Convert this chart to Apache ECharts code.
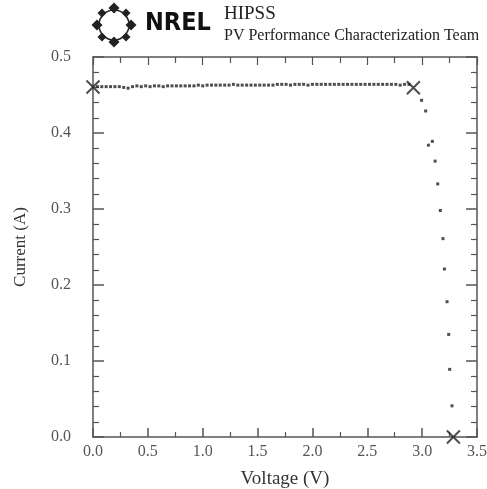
<!DOCTYPE html>
<html><head><meta charset="utf-8">
<script src="https://cdn.jsdelivr.net/npm/echarts@6/dist/echarts.min.js"></script>
<style>html,body{margin:0;padding:0;background:#fff}#c{width:487px;height:489px}</style>
</head><body><div id="c"></div>
<script>
// Flat region of the I-V curve (measured points)
const flatV = [0.04,0.08,0.12,0.16,0.20,0.24,0.28,0.32,0.36,0.40,0.44,0.48,0.52,0.56,0.60,0.64,0.68,0.72,0.76,0.80,0.84,0.88,0.92,0.96,1.00,1.04,1.08,1.12,1.16,1.20,1.24,1.28,1.32,1.36,1.40,1.44,1.48,1.52,1.56,1.60,1.64,1.68,1.72,1.76,1.80,1.84,1.88,1.92,1.96,2.00,2.04,2.08,2.12,2.16,2.20,2.24,2.28,2.32,2.36,2.40,2.44,2.48,2.52,2.56,2.60,2.64,2.68,2.72,2.76,2.80,2.84,2.88];
const flatI = [0.461,0.461,0.461,0.461,0.461,0.461,0.460,0.459,0.461,0.462,0.461,0.462,0.461,0.462,0.462,0.461,0.462,0.462,0.462,0.462,0.462,0.462,0.462,0.463,0.462,0.463,0.463,0.463,0.463,0.463,0.463,0.464,0.463,0.463,0.463,0.463,0.463,0.463,0.463,0.463,0.463,0.464,0.464,0.464,0.463,0.464,0.464,0.464,0.463,0.464,0.464,0.464,0.464,0.464,0.464,0.464,0.464,0.464,0.464,0.464,0.464,0.464,0.464,0.464,0.464,0.464,0.464,0.464,0.464,0.463,0.464,0.464];
// Knee and tail
const tailV = [2.995,3.032,3.057,3.093,3.118,3.142,3.166,3.190,3.203,3.227,3.242,3.251,3.272];
const tailI = [0.443,0.429,0.384,0.389,0.363,0.333,0.298,0.261,0.221,0.178,0.135,0.089,0.041];
// Key points: Isc, Pmax, Voc
const keyV = [0.0, 2.92, 3.285];
const keyI = [0.4605, 0.4596, 0.0];
const xTicks = ['0.0','0.5','1.0','1.5','2.0','2.5','3.0','3.5'];
const yTicks = ['0.0','0.1','0.2','0.3','0.4','0.5'];

const dots = flatV.map((v,i)=>[v,flatI[i]]).concat(tailV.map((v,i)=>[v,tailI[i]]));
const keys = keyV.map((v,i)=>[v,keyI[i]]);

const axisCol = '#555';
const font = 'Liberation Serif';
const chart = echarts.init(document.getElementById('c'), null, {renderer:'canvas'});

function diamond(cx, cy, s){ return {type:'polygon', shape:{points:[[cx,cy-s],[cx+s,cy],[cx,cy+s],[cx-s,cy]]}, style:{fill:'#222'}}; }
const lc = [114, 25], R = 17;
const logo = [];
for (let k=0;k<8;k++){
  const a = k*Math.PI/4;
  logo.push(diamond(lc[0]+R*Math.cos(a), lc[1]+R*Math.sin(a), k%2===0?5.5:4.5));
}

const xCommon = {type:'value', min:0, max:3.5, interval:0.5,
  axisLine:{show:true, onZero:false, lineStyle:{color:axisCol, width:1.5}},
  splitLine:{show:false}};
const yCommon = {type:'value', min:0, max:0.5, interval:0.1,
  axisLine:{show:true, onZero:false, lineStyle:{color:axisCol, width:1.5}},
  splitLine:{show:false}};

chart.setOption({
  animation:false,
  backgroundColor:'#fff',
  grid:{left:93, right:10, top:57, bottom:52, containLabel:false, outerBoundsMode:'none'},
  xAxis:[
    Object.assign({}, xCommon, {position:'bottom',
      name:'Voltage (V)', nameLocation:'middle', nameGap:33, nameMoveOverlap:false,
      nameTextStyle:{fontFamily:font, fontSize:19, color:'#333'},
      axisTick:{show:true, inside:true, length:9, lineStyle:{color:axisCol, width:1.5}},
      minorTick:{show:true, splitNumber:2, length:5, lineStyle:{color:axisCol, width:1.2}},
      axisLabel:{fontFamily:font, fontSize:16, color:axisCol, margin:7,
        formatter:(v)=>xTicks[Math.round(v/0.5)]}}),
    Object.assign({}, xCommon, {position:'top',
      axisTick:{show:true, inside:true, length:8, lineStyle:{color:axisCol, width:1.2}},
      minorTick:{show:true, splitNumber:2, length:6, lineStyle:{color:axisCol, width:1.2}},
      axisLabel:{show:false}})
  ],
  yAxis:[
    Object.assign({}, yCommon, {position:'left',
      name:'Current (A)', nameLocation:'middle', nameGap:64, nameRotate:90,
      nameTextStyle:{fontFamily:font, fontSize:17, color:'#333'},
      axisTick:{show:true, inside:true, length:11, lineStyle:{color:axisCol, width:1.5}},
      minorTick:{show:true, splitNumber:5, length:6, lineStyle:{color:axisCol, width:1.2}},
      axisLabel:{fontFamily:font, fontSize:16, color:axisCol, margin:22,
        formatter:(v)=>yTicks[Math.round(v/0.1)]}}),
    Object.assign({}, yCommon, {position:'right',
      axisTick:{show:true, inside:true, length:11, lineStyle:{color:axisCol, width:1.5}},
      minorTick:{show:true, splitNumber:5, length:6, lineStyle:{color:axisCol, width:1.2}},
      axisLabel:{show:false}})
  ],
  series:[
    {type:'scatter', xAxisIndex:0, yAxisIndex:0, data:dots, symbol:'rect', symbolSize:3,
     itemStyle:{color:'#222'}, silent:true},
    {type:'scatter', xAxisIndex:0, yAxisIndex:0, data:keys,
     symbol:'path://M0,0 L10,10 M10,0 L0,10', symbolSize:13,
     itemStyle:{color:'none', borderColor:'#222', borderWidth:2}, silent:true, z:5}
  ],
  graphic:[
    {type:'group', children:logo.concat([
      {type:'circle', shape:{cx:lc[0], cy:lc[1], r:R-2}, style:{fill:'none', stroke:'#222', lineWidth:1.5}},
      {type:'text', left:145, top:11, style:{text:'NREL', font:'bold 25px "DejaVu Sans Condensed", "DejaVu Sans"', fill:'#111'}}
    ])},
    {type:'text', left:224, top:5, style:{text:'HIPSS', font:'19px "Liberation Serif"', fill:'#222'}},
    {type:'text', left:224, top:28, style:{text:'PV Performance Characterization Team', font:'16px "Liberation Serif"', fill:'#222'}}
  ]
});
</script></body></html>
